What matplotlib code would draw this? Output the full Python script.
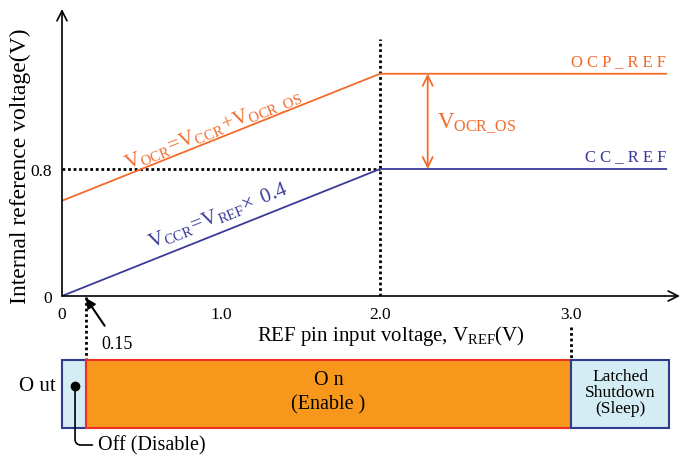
import matplotlib
matplotlib.use("Agg")
import matplotlib.pyplot as plt

# curve data (REF pin voltage vs internal reference voltage)
v_ref = [0, 2.0, 3.8]
cc_ref = [0, 0.8, 0.8]
ocp_ref = [0.6, 1.4, 1.4]

# axis ticks (the drawing is schematic, 3.0 sits a bit further right)
x_tick_pos = [0, 1.0, 2.0, 3.2]
x_tick_lbl = ["0", "1.0", "2.0", "3.0"]
y_tick_pos = [0, 0.8]
y_tick_lbl = ["0", "0.8"]

# operating state bar
state_start = [0, 0.15, 3.2]
state_width = [0.15, 3.05, 0.62]
state_fill = ["#d4ecf3", "#f7981d", "#d4ecf3"]
state_edge = ["#2f3b8f", "#ee3124", "#2f3b8f"]

orange = "#f26b2a"
blue = "#3a3a98"

plt.rcParams["font.family"] = "Liberation Serif"
plt.rcParams["mathtext.fontset"] = "custom"
plt.rcParams["mathtext.rm"] = "Liberation Serif"
plt.rcParams["mathtext.it"] = "Liberation Serif:italic"

W, H = 681, 456
fig = plt.figure(figsize=(W / 100, H / 100), dpi=100)

ax = fig.add_axes([62 / W, (H - 297) / H, 618 / W, 287 / H])
ax.set_xlim(0, 618 / 159)
ax.set_ylim(0, 287 / 158.75)
for s in ax.spines.values():
    s.set_visible(False)
ax.annotate("", xy=(1, 0), xytext=(0, 0), xycoords="axes fraction",
            arrowprops=dict(arrowstyle="->", lw=1.2, color="k", mutation_scale=18,
                            shrinkA=0, shrinkB=0))
ax.annotate("", xy=(0, 1), xytext=(0, 0), xycoords="axes fraction",
            arrowprops=dict(arrowstyle="->", lw=1.2, color="k", mutation_scale=18,
                            shrinkA=0, shrinkB=0))

ax.set_xticks(x_tick_pos)
ax.set_xticklabels(x_tick_lbl)
ax.set_yticks(y_tick_pos)
ax.set_yticklabels(y_tick_lbl)
ax.tick_params(length=0, labelsize=12.5, pad=7)

ax.set_xlabel(r"REF pin input voltage, $\mathrm{V_{REF}}$(V)", fontsize=15)
ax.xaxis.set_label_coords(0.532, -0.095)
ax.set_ylabel("Internal reference voltage(V)", fontsize=17)
ax.yaxis.set_label_coords(-0.05, 0.456)

# dotted guides
dot = (0, (1, 1))
ax.plot([0, 2.0], [0.8, 0.8], color="k", lw=2, ls=dot)
ax.plot([2.0, 2.0], [0, 1.62], color="k", lw=2, ls=dot)
ax.plot([0.15, 0.15], [-0.006, -0.403], color="k", lw=2, ls=dot, clip_on=False)
ax.plot([3.2, 3.2], [-0.195, -0.403], color="k", lw=2, ls=dot, clip_on=False)

ax.plot(v_ref, ocp_ref, color=orange, lw=1.3)
ax.plot(v_ref, cc_ref, color=blue, lw=1.3)

ax.annotate("", xy=(2.3, 1.4), xytext=(2.3, 0.8),
            arrowprops=dict(arrowstyle="<->", color=orange, lw=1.3, mutation_scale=18,
                            shrinkA=0, shrinkB=0))
ax.text(2.36, 1.096, r"$\mathrm{V_{OCR\_OS}}$", color=orange, fontsize=16.5,
        ha="left", va="center")
ax.text(3.8, 1.48, "O C P _ R E F", color=orange, fontsize=12, ha="right", va="center")
ax.text(3.8, 0.882, "C C _ R E F", color=blue, fontsize=12, ha="right", va="center")

ax.text(0.95, 1.05, r"$\mathrm{V_{OCR}\!=\!V_{CCR}\!+\!V_{OCR\_OS}}$", color=orange,
        fontsize=15, rotation=21.8, rotation_mode="anchor", ha="center", va="center")
ax.text(0.98, 0.51, r"$\mathrm{V_{CCR}\!=\!V_{REF}\!\times\ 0.4}$", color=blue,
        fontsize=15, rotation=21.8, rotation_mode="anchor", ha="center", va="center")

ax.annotate("0.15", xy=(0.15, -0.013), xytext=(0.346, -0.302), fontsize=13,
            ha="center", va="center", annotation_clip=False,
            arrowprops=dict(arrowstyle="-|>", color="k", lw=1.5, mutation_scale=14,
                            shrinkA=6, shrinkB=0))

# state bar
ax2 = fig.add_axes([62 / W, (H - 429) / H, 618 / W, 68 / H])
ax2.set_xlim(0, 618 / 159)
ax2.set_ylim(0, 1)
ax2.axis("off")
ax2.barh([0.5] * 3, state_width, left=state_start, height=1, color=state_fill,
         edgecolor=state_edge, lw=1.5, clip_on=False)
ax2.text(1.675, 0.706, "O n", fontsize=14.5, ha="center", va="center")
ax2.text(1.675, 0.353, "(Enable )", fontsize=14.5, ha="center", va="center")
ax2.text(3.51, 0.53, "Latched\nShutdown\n(Sleep)", fontsize=12.5, ha="center",
         va="center", linespacing=0.97)
ax2.text(-0.038, 0.618, "O ut", fontsize=15, ha="right", va="center")
ax2.plot([0.082], [0.618], "o", color="k", ms=6, clip_on=False)
ax2.annotate("Off (Disable)", xy=(0.082, 0.618), xytext=(0.226, -0.25),
             fontsize=14.5, ha="left", va="center", annotation_clip=False,
             arrowprops=dict(arrowstyle="-", color="k", lw=1.2, relpos=(0, 0.5),
                             connectionstyle="angle,angleA=0,angleB=90,rad=6",
                             shrinkA=2, shrinkB=0))

fig.savefig("out.png", dpi=100)
